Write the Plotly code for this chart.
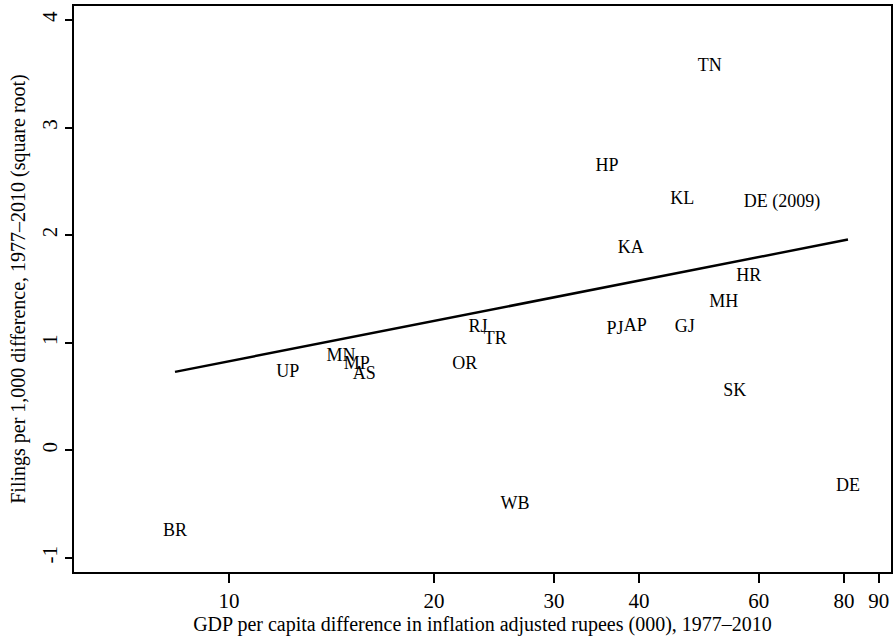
import numpy as np
import plotly.graph_objects as go

# state labels, GDP per capita difference (000 rupees), filings difference (sqrt)
states = ["TN", "HP", "KL", "DE (2009)", "KA", "HR", "MH", "GJ", "AP", "PJ",
          "SK", "RJ", "TR", "OR", "MN", "MP", "AS", "UP", "WB", "BR", "DE"]
gdp_diff = [50.8, 35.9, 46.3, 64.9, 38.9, 58.0, 53.3, 46.7, 39.5, 36.9,
            55.3, 23.2, 24.6, 22.2, 14.6, 15.4, 15.8, 12.2, 26.3, 8.33, 81.1]
filings_diff = [3.57, 2.64, 2.33, 2.30, 1.88, 1.62, 1.37, 1.14, 1.15, 1.12,
                0.55, 1.14, 1.03, 0.80, 0.87, 0.80, 0.71, 0.72, -0.50, -0.75, -0.34]

# fitted line end points
fit_x = [8.33, 81.1]
fit_y = [0.73, 1.96]

x_ticks = [10, 20, 30, 40, 60, 80, 90]
y_ticks = [-1, 0, 1, 2, 3, 4]

SERIF = "Liberation Serif, Times New Roman, serif"

fig = go.Figure()

fig.add_trace(go.Scatter(
    x=gdp_diff, y=filings_diff, text=states,
    mode="text", textposition="middle center",
    textfont=dict(family=SERIF, size=18, color="black"),
    showlegend=False, hoverinfo="skip"
))

fig.add_trace(go.Scatter(
    x=fit_x, y=fit_y, mode="lines",
    line=dict(color="black", width=2.5),
    showlegend=False, hoverinfo="skip"
))

fig.update_layout(
    width=896, height=643,
    margin=dict(l=74, r=5, t=6, b=71, autoexpand=False),
    paper_bgcolor="white", plot_bgcolor="white",
    font=dict(family=SERIF, size=19, color="black"),
    xaxis=dict(
        type="log", automargin=False,
        range=[np.log10(5.92), np.log10(93.8)],
        tickvals=x_ticks, ticktext=[str(v) for v in x_ticks],
        ticks="outside", ticklen=9, tickwidth=2, tickcolor="black",
        showgrid=False, zeroline=False,
        showline=True, linewidth=2, linecolor="black", mirror=True,
        tickfont=dict(size=21),
        title=dict(text="GDP per capita difference in inflation adjusted rupees (000), 1977–2010",
                   font=dict(size=20), standoff=0),
    ),
    yaxis=dict(
        automargin=False,
        range=[-1.13, 4.13],
        tickvals=y_ticks, ticktext=[str(v) for v in y_ticks],
        ticks="outside", ticklen=7, tickwidth=2, tickcolor="black",
        tickangle=-90,
        showgrid=False, zeroline=False,
        showline=True, linewidth=2, linecolor="black", mirror=True,
        tickfont=dict(size=21),
        title=dict(text="Filings per 1,000 difference, 1977–2010 (square root)",
                   font=dict(size=20), standoff=7),
    ),
)

# drop the default page margin so the figure sits at the window's corner
fig.write_html("out.html", config={"displayModeBar": False},
               post_script="document.body.style.margin='0px';")
